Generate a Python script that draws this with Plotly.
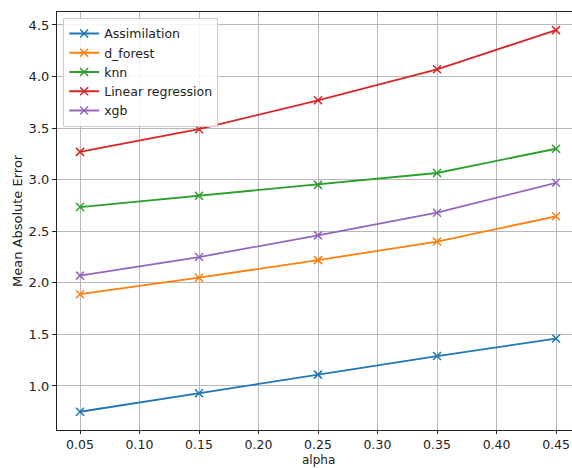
import plotly.graph_objects as go

alpha = [0.05, 0.15, 0.25, 0.35, 0.45]
assimilation = [0.75, 0.93, 1.11, 1.29, 1.46]
d_forest = [1.89, 2.05, 2.22, 2.40, 2.645]
knn = [2.735, 2.845, 2.95, 3.065, 3.30]
linear_regression = [3.27, 3.49, 3.77, 4.07, 4.45]
xgb = [2.07, 2.25, 2.46, 2.68, 2.97]

series = [
    ("Assimilation", assimilation, "#1f77b4"),
    ("d_forest", d_forest, "#ff7f0e"),
    ("knn", knn, "#2ca02c"),
    ("Linear regression", linear_regression, "#d62728"),
    ("xgb", xgb, "#9467bd"),
]

x_ticks = [0.05, 0.10, 0.15, 0.20, 0.25, 0.30, 0.35, 0.40, 0.45]
y_ticks = [1.0, 1.5, 2.0, 2.5, 3.0, 3.5, 4.0, 4.5]

fig = go.Figure()
for name, vals, color in series:
    fig.add_trace(go.Scatter(
        x=alpha, y=vals, name=name, mode="lines+markers",
        line=dict(color=color, width=1.8),
        marker=dict(symbol="x-thin", size=8, line=dict(color=color, width=1.5), color=color),
    ))

font = "DejaVu Sans"
fig.update_layout(
    width=572, height=468,
    margin=dict(l=57, r=0, t=12, b=38, autoexpand=False),
    paper_bgcolor="white", plot_bgcolor="white",
    font=dict(family=font, size=13, color="#222222"),
    showlegend=True,
    legend=dict(
        x=0.012, y=0.986, xanchor="left", yanchor="top",
        bgcolor="rgba(255,255,255,0.85)", bordercolor="#cccccc", borderwidth=1,
        font=dict(family=font, size=12.5, color="#222222"),
        tracegroupgap=0, itemwidth=30,
    ),
    xaxis=dict(
        range=[0.03067, 0.4634], tickvals=x_ticks,
        ticktext=[f"{v:.2f}" for v in x_ticks],
        showgrid=True, gridcolor="#b8b8b8", gridwidth=1,
        showline=True, linecolor="#222222", linewidth=1.2, mirror=True,
        ticks="outside", ticklen=3, tickcolor="#222222",
        tickfont=dict(family=font, size=12.5, color="#222222"),
        zeroline=False, automargin=False,
    ),
    yaxis=dict(
        range=[0.573, 4.626], tickvals=y_ticks,
        ticktext=[f"{v:.1f}" for v in y_ticks],
        showgrid=True, gridcolor="#b8b8b8", gridwidth=1,
        showline=True, linecolor="#222222", linewidth=1.2, mirror=True,
        ticks="outside", ticklen=4, tickcolor="#222222",
        zeroline=False, automargin=False,
    ),
    annotations=[
        dict(text="alpha", xref="paper", yref="paper", x=(318 - 57) / 515, y=-38 / 418,
             xanchor="center", yanchor="bottom", showarrow=False, borderpad=0,
             font=dict(family=font, size=12, color="#222222")),
        dict(text="Mean Absolute Error", xref="paper", yref="paper", x=-40 / 515, y=0.5,
             xanchor="center", yanchor="middle", showarrow=False, textangle=-90,
             font=dict(family=font, size=13, color="#222222")),
    ],
)

fig.write_html("out.html", config={"displayModeBar": False},
               post_script="document.body.style.margin='0';")
